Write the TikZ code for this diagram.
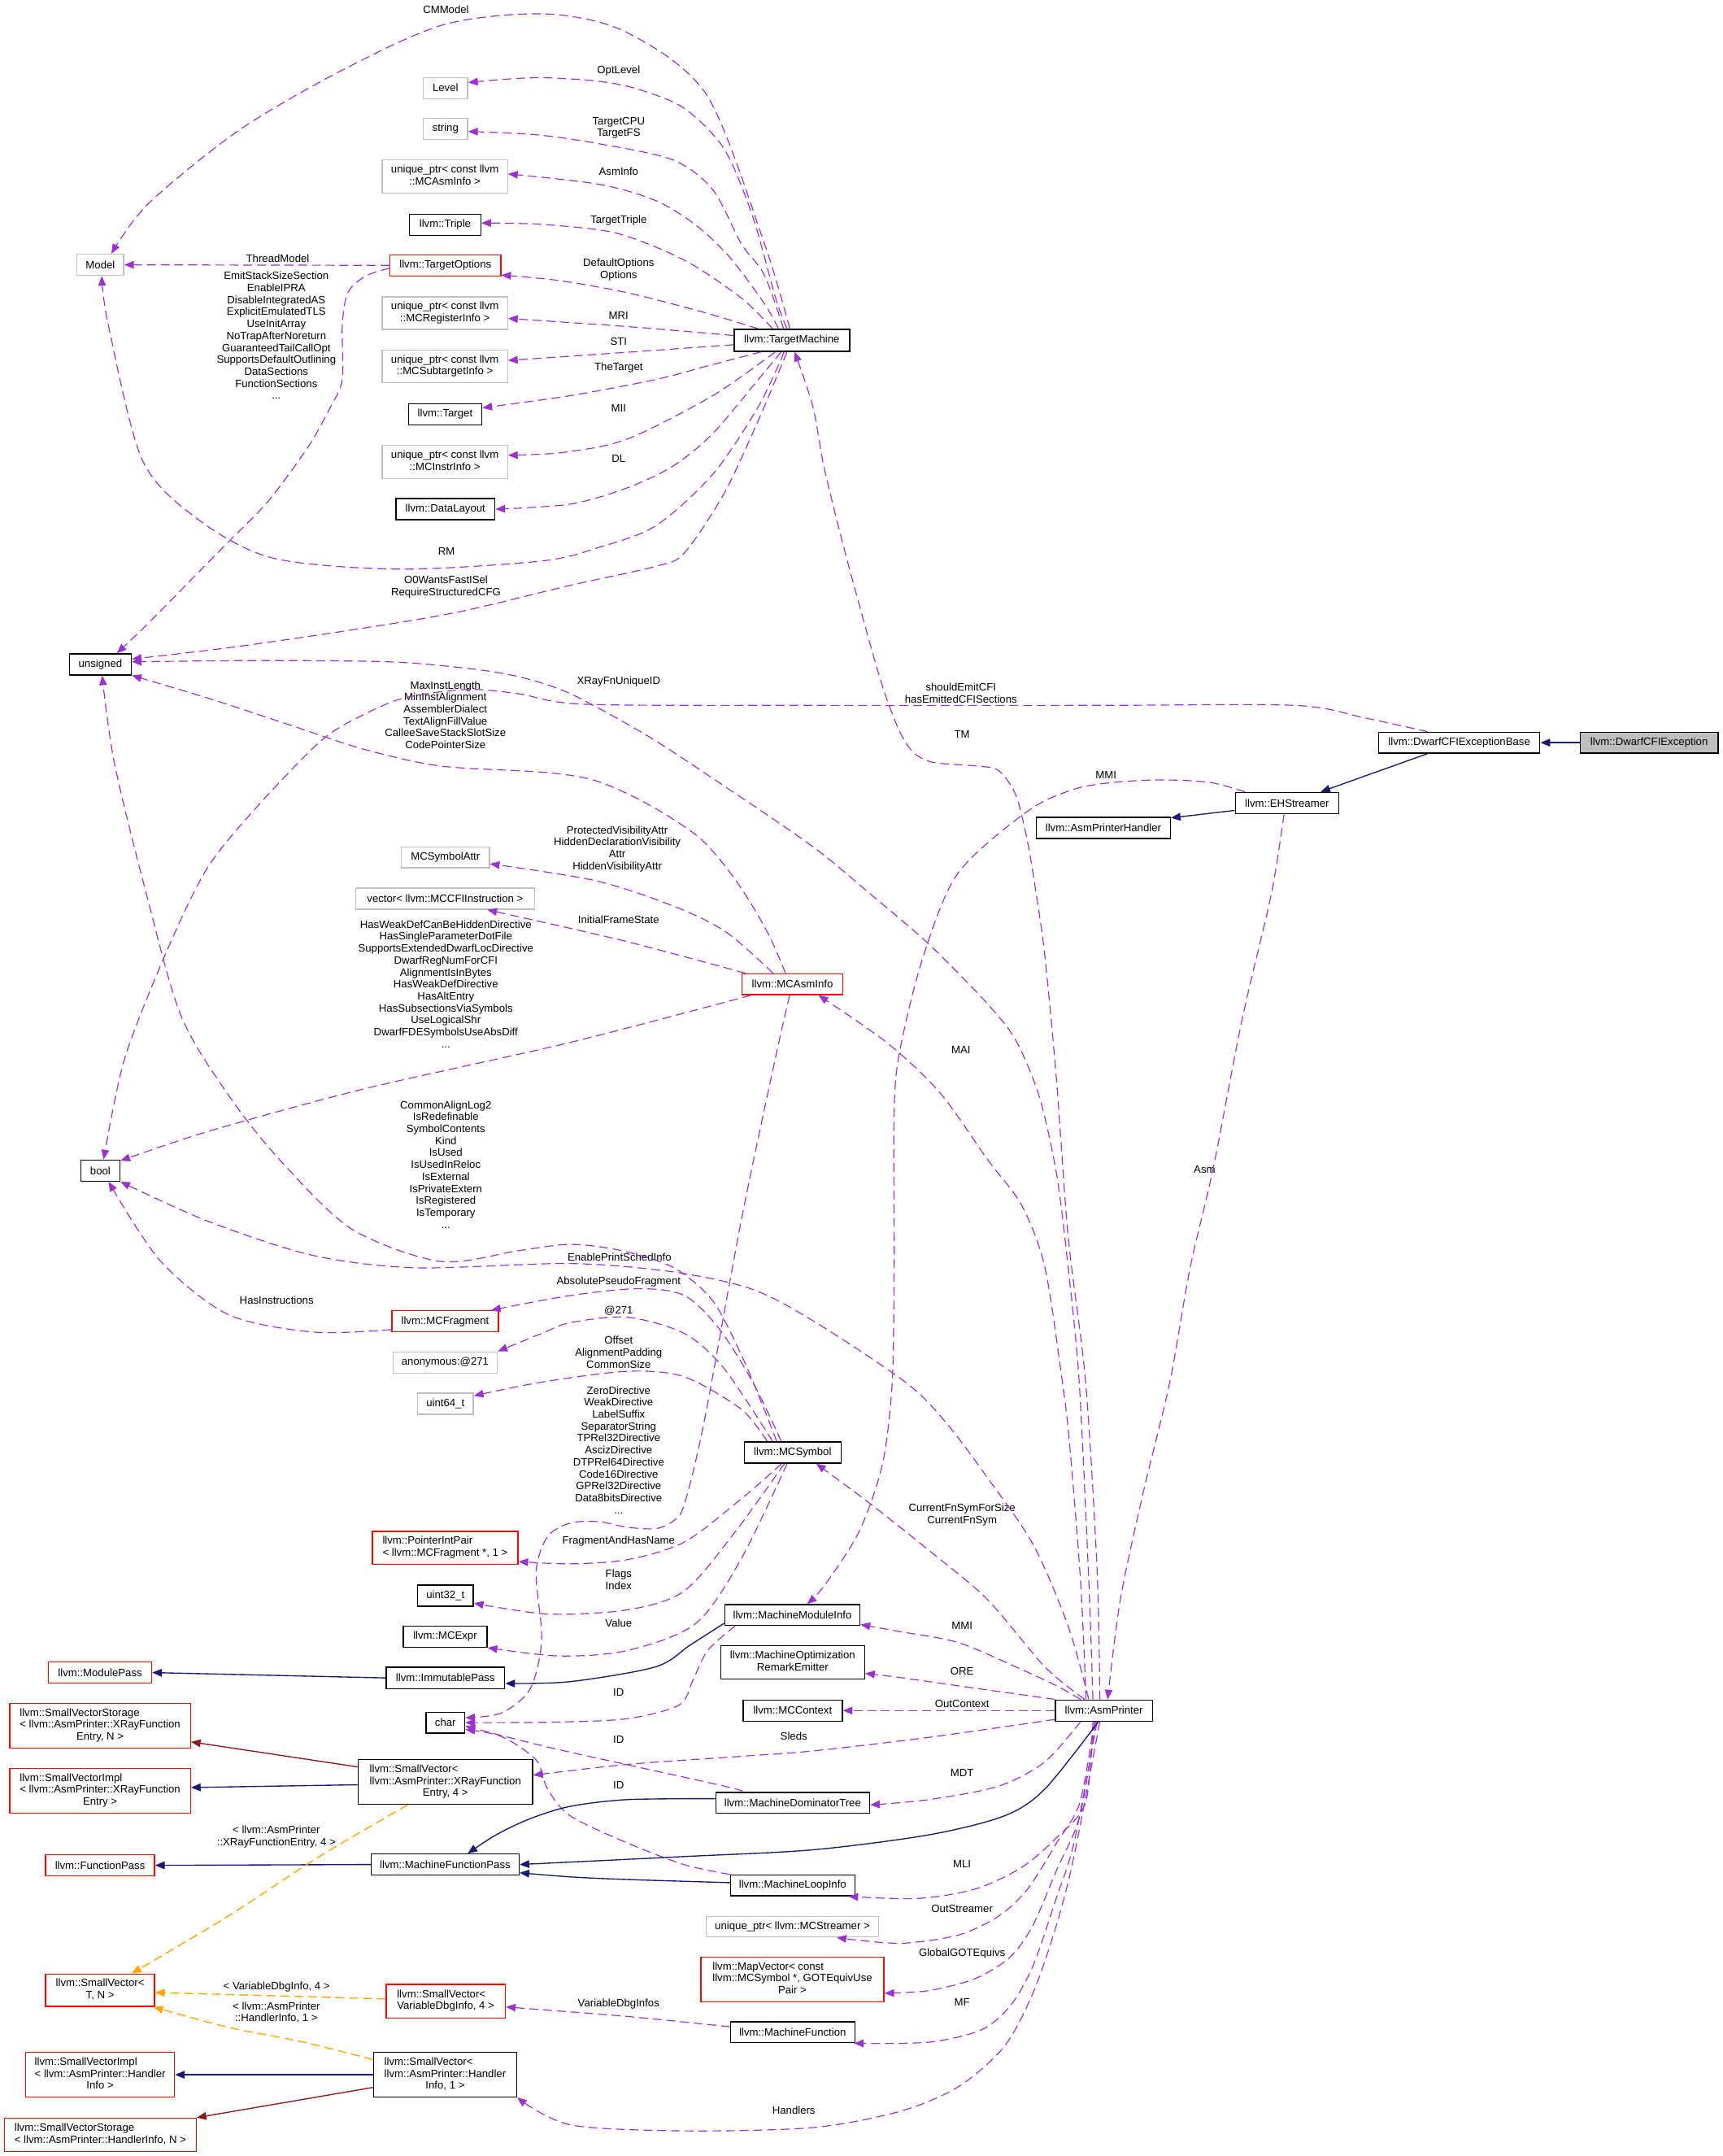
\documentclass[tikz,border=0pt]{standalone}
\usepackage{fontspec}
\setmainfont{Liberation Sans}
\usetikzlibrary{arrows.meta}
\definecolor{dxpurple}{HTML}{9A32CD}
\definecolor{dxblue}{HTML}{191970}
\definecolor{dxred}{HTML}{8B1A1A}
\definecolor{dxorange}{HTML}{FFA500}
\definecolor{dxgrey}{HTML}{BFBFBF}
\definecolor{dxtrunc}{HTML}{FF0000}
\newcommand\dxfont{\fontsize{7.8pt}{8.7pt}\selectfont}
\newcommand\dxml[2]{\begin{tabular}{@{}l@{}}#1\\\multicolumn{1}{@{}c@{}}{#2}\end{tabular}}
\begin{document}
\begin{tikzpicture}[x=1pt,y=-1pt,
  dxbox/.style={rectangle, draw, fill=white, line width=0.8pt, inner sep=0pt, font=\dxfont, align=center},
  cls/.style={dxbox, draw=black},
  undoc/.style={dxbox, draw=dxgrey},
  trunc/.style={dxbox, draw=dxtrunc},
  rootcls/.style={dxbox, draw=black, fill=dxgrey},
  lbl/.style={font=\dxfont, align=center, inner sep=0pt},
  tipa/.style={-{Triangle[length=7pt,width=5.6pt]}},
  usage/.style={draw=dxpurple, line width=0.7pt, dash pattern=on 6.5pt off 3.5pt, tipa},
  inh/.style={draw=dxblue, line width=0.8pt, tipa},
  priv/.style={draw=dxred, line width=0.8pt, tipa},
  tmpl/.style={draw=dxorange, line width=0.8pt, dash pattern=on 6.5pt off 3.5pt, tipa},
]
\useasboundingbox (0,0) rectangle (1253,1568);
\fill[white] (0,0) rectangle (1253,1568);

% ---------- nodes: left column
\node[undoc, minimum width=34pt, minimum height=15.5pt] (model) at (73,192.6) {Model};
\node[cls, minimum width=45pt, minimum height=15.3pt] (unsigned) at (73,483.2) {unsigned};
\node[cls, minimum width=28.5pt, minimum height=15.4pt] (bool) at (73,851.3) {bool};
\node[trunc, minimum width=75pt, minimum height=15.4pt] (modulepass) at (72.8,1216.4) {llvm::ModulePass};
\node[trunc, minimum width=131.5pt, minimum height=32.6pt] (svstorx) at (72.8,1255.1) {\dxml{llvm::SmallVectorStorage\\< llvm::AsmPrinter::XRayFunction}{Entry, N >}};
\node[trunc, minimum width=131.5pt, minimum height=32.6pt] (svimplx) at (72.8,1302.4) {\dxml{llvm::SmallVectorImpl\\< llvm::AsmPrinter::XRayFunction}{Entry >}};
\node[trunc, minimum width=79.2pt, minimum height=15.5pt] (functionpass) at (72.8,1356.6) {llvm::FunctionPass};
\node[trunc, minimum width=79.2pt, minimum height=23.6pt] (svtn) at (72.8,1447.4) {\dxml{llvm::SmallVector<}{T, N >}};
\node[trunc, minimum width=108.2pt, minimum height=32.4pt] (svimplh) at (72.8,1508.9) {\dxml{llvm::SmallVectorImpl\\< llvm::AsmPrinter::Handler}{Info >}};
\node[trunc, minimum width=139.4pt, minimum height=24.1pt] (svstorh) at (73,1552.5) {\dxml{llvm::SmallVectorStorage}{< llvm::AsmPrinter::HandlerInfo, N >}};

% ---------- nodes: middle column
\node[undoc, minimum width=32.3pt, minimum height=15.4pt] (level) at (324,64) {Level};
\node[undoc, minimum width=32.3pt, minimum height=15.4pt] (string) at (324,93.8) {string};
\node[undoc, minimum width=91.2pt, minimum height=24pt] (upasm) at (323.6,128.3) {\dxml{unique\_ptr< const llvm}{::MCAsmInfo >}};
\node[cls, minimum width=52pt, minimum height=15.4pt] (triple) at (323.8,163.4) {llvm::Triple};
\node[trunc, minimum width=80.5pt, minimum height=15.3pt] (targetoptions) at (324,193) {llvm::TargetOptions};
\node[undoc, minimum width=91.2pt, minimum height=23.7pt] (upreg) at (323.6,227.7) {\dxml{unique\_ptr< const llvm}{::MCRegisterInfo >}};
\node[undoc, minimum width=91.2pt, minimum height=23.6pt] (upsub) at (323.6,266.5) {\dxml{unique\_ptr< const llvm}{::MCSubtargetInfo >}};
\node[cls, minimum width=53.5pt, minimum height=15.2pt] (target) at (323.8,301.3) {llvm::Target};
\node[undoc, minimum width=91.2pt, minimum height=24.3pt] (upinstr) at (323.6,335.8) {\dxml{unique\_ptr< const llvm}{::MCInstrInfo >}};
\node[cls, minimum width=72pt, minimum height=15.3pt] (datalayout) at (324,370.3) {llvm::DataLayout};
\node[undoc, minimum width=64pt, minimum height=15.2pt] (symattr) at (324,623.5) {MCSymbolAttr};
\node[undoc, minimum width=129.8pt, minimum height=15.4pt] (vector) at (323.8,653.6) {vector< llvm::MCCFIInstruction >};
\node[trunc, minimum width=77.6pt, minimum height=15.4pt] (mcfragment) at (323.8,961) {llvm::MCFragment};
\node[undoc, minimum width=75.9pt, minimum height=15.4pt] (anon) at (323.8,990.9) {anonymous:@271};
\node[undoc, minimum width=40.6pt, minimum height=15.4pt] (uint64) at (324,1020.8) {uint64\_t};
\node[trunc, minimum width=105.8pt, minimum height=24pt] (pip) at (323.8,1125.7) {\dxml{llvm::PointerIntPair}{< llvm::MCFragment *, 1 >}};
\node[cls, minimum width=40.6pt, minimum height=15.4pt] (uint32) at (324,1160.4) {uint32\_t};
\node[cls, minimum width=61pt, minimum height=15.3pt] (mcexpr) at (323.8,1190.3) {llvm::MCExpr};
\node[cls, minimum width=86.3pt, minimum height=15.4pt] (immutable) at (324,1220.3) {llvm::ImmutablePass};
\node[cls, minimum width=28.2pt, minimum height=15.3pt] (char) at (324,1252.8) {char};
\node[cls, minimum width=127pt, minimum height=32.4pt] (svx) at (324,1296) {\dxml{llvm::SmallVector<\\ llvm::AsmPrinter::XRayFunction}{Entry, 4 >}};
\node[cls, minimum width=107.5pt, minimum height=15.2pt] (mfp) at (323.8,1356) {llvm::MachineFunctionPass};
\node[trunc, minimum width=86.7pt, minimum height=24.3pt] (svvdi) at (324.2,1455.4) {\dxml{llvm::SmallVector<}{VariableDbgInfo, 4 >}};
\node[cls, minimum width=104pt, minimum height=32.4pt] (svh) at (323.8,1508.9) {\dxml{llvm::SmallVector<\\ llvm::AsmPrinter::Handler}{Info, 1 >}};

% ---------- nodes: column x=576
\node[cls, minimum width=84pt, minimum height=16pt] (tm) at (576,247.5) {llvm::TargetMachine};
\node[trunc, minimum width=73.4pt, minimum height=15.2pt] (mcasminfo) at (576.4,715.8) {llvm::MCAsmInfo};
\node[cls, minimum width=70.5pt, minimum height=15.4pt] (mcsymbol) at (576.6,1056.3) {llvm::MCSymbol};
\node[cls, minimum width=98.3pt, minimum height=15.2pt] (mmi) at (576.4,1174.5) {llvm::MachineModuleInfo};
\node[cls, minimum width=104.6pt, minimum height=24.1pt] (more) at (576.6,1209) {\dxml{llvm::MachineOptimization}{RemarkEmitter}};
\node[cls, minimum width=72.2pt, minimum height=15.4pt] (mccontext) at (576.6,1244) {llvm::MCContext};
\node[cls, minimum width=112pt, minimum height=15.2pt] (mdt) at (576.6,1311.1) {llvm::MachineDominatorTree};
\node[cls, minimum width=90.4pt, minimum height=15.2pt] (mli) at (576.6,1371.2) {llvm::MachineLoopInfo};
\node[undoc, minimum width=125.6pt, minimum height=15.1pt] (upstreamer) at (576.4,1401.2) {unique\_ptr< llvm::MCStreamer >};
\node[trunc, minimum width=133.2pt, minimum height=32.6pt] (mapvector) at (576.4,1439.6) {\dxml{llvm::MapVector< const\\ llvm::MCSymbol *, GOTEquivUse}{Pair >}};
\node[cls, minimum width=90.4pt, minimum height=15.2pt] (mf) at (576.6,1478) {llvm::MachineFunction};

% ---------- nodes: right part
\node[cls, minimum width=70.5pt, minimum height=15.4pt] (asmprinter) at (803,1244) {llvm::AsmPrinter};
\node[cls, minimum width=97.5pt, minimum height=15.4pt] (aph) at (802.6,602.1) {llvm::AsmPrinterHandler};
\node[cls, minimum width=75.2pt, minimum height=15.4pt] (ehs) at (936.2,584) {llvm::EHStreamer};
\node[cls, minimum width=117.2pt, minimum height=15pt] (dcfib) at (1061.5,540.1) {llvm::DwarfCFIExceptionBase};
\node[rootcls, minimum width=100.5pt, minimum height=15pt] (dcfi) at (1199.6,540.1) {llvm::DwarfCFIException};

% ---------- edge labels
\node[lbl] (lCMModel) at (324.4,6.9) {CMModel};
\node[lbl] (lOptLevel) at (450,51.6) {OptLevel};
\node[lbl] (lTargetCPU) at (450,93) {TargetCPU\\TargetFS};
\node[lbl] (lAsmInfo) at (450,124.6) {AsmInfo};
\node[lbl] (lTriple) at (450,160.6) {TargetTriple};
\node[lbl] (lThread) at (202,188.2) {ThreadModel};
\node[lbl] (lOptions) at (450,196) {DefaultOptions\\Options};
\node[lbl] (lMRI) at (450,229.6) {MRI};
\node[lbl] (lSTI) at (450,248.3) {STI};
\node[lbl] (lEmit) at (201,244) {EmitStackSizeSection\\EnableIPRA\\DisableIntegratedAS\\ExplicitEmulatedTLS\\UseInitArray\\NoTrapAfterNoreturn\\GuaranteedTailCallOpt\\SupportsDefaultOutlining\\DataSections\\FunctionSections\\...};
\node[lbl] (lTheTarget) at (450,267.4) {TheTarget};
\node[lbl] (lMII) at (450,297) {MII};
\node[lbl] (lDL) at (450,333.5) {DL};
\node[lbl] (lRM) at (324.8,401.1) {RM};
\node[lbl] (lO0) at (324.4,427) {O0WantsFastISel\\RequireStructuredCFG};
\node[lbl] (lXRay) at (450,495.8) {XRayFnUniqueID};
\node[lbl] (lCFI) at (699,504) {shouldEmitCFI\\hasEmittedCFISections};
\node[lbl] (lMaxInst) at (324,520) {MaxInstLength\\MinInstAlignment\\AssemblerDialect\\TextAlignFillValue\\CalleeSaveStackSlotSize\\CodePointerSize};
\node[lbl] (lTM) at (699.8,534) {TM};
\node[lbl] (lMMIa) at (804.5,563.4) {MMI};
\node[lbl] (lProt) at (449,617.4) {ProtectedVisibilityAttr\\HiddenDeclarationVisibility\\Attr\\HiddenVisibilityAttr};
\node[lbl] (lInit) at (450,669) {InitialFrameState};
\node[lbl] (lHasWeak) at (324.3,715.7) {HasWeakDefCanBeHiddenDirective\\HasSingleParameterDotFile\\SupportsExtendedDwarfLocDirective\\DwarfRegNumForCFI\\AlignmentIsInBytes\\HasWeakDefDirective\\HasAltEntry\\HasSubsectionsViaSymbols\\UseLogicalShr\\DwarfFDESymbolsUseAbsDiff\\...};
\node[lbl] (lMAI) at (699,763.6) {MAI};
\node[lbl] (lCommon) at (324.3,846.9) {CommonAlignLog2\\IsRedefinable\\SymbolContents\\Kind\\IsUsed\\IsUsedInReloc\\IsExternal\\IsPrivateExtern\\IsRegistered\\IsTemporary\\...};
\node[lbl] (lAsm) at (876.2,850.8) {Asm};
\node[lbl] (lEnable) at (450.6,914.3) {EnablePrintSchedInfo};
\node[lbl] (lAbs) at (450,932.3) {AbsolutePseudoFragment};
\node[lbl] (lHasInstr) at (201.2,945.7) {HasInstructions};
\node[lbl] (l271) at (450,953) {@271};
\node[lbl] (lOffset) at (450,983.5) {Offset\\AlignmentPadding\\CommonSize};
\node[lbl] (lZero) at (450,1054.5) {ZeroDirective\\WeakDirective\\LabelSuffix\\SeparatorString\\TPRel32Directive\\AscizDirective\\DTPRel64Directive\\Code16Directive\\GPRel32Directive\\Data8bitsDirective\\...};
\node[lbl] (lCurFn) at (699.8,1101.7) {CurrentFnSymForSize\\CurrentFnSym};
\node[lbl] (lFrag) at (450,1121) {FragmentAndHasName};
\node[lbl] (lFlags) at (450,1149) {Flags\\Index};
\node[lbl] (lValue) at (450,1180.7) {Value};
\node[lbl] (lMMIb) at (699.8,1182.3) {MMI};
\node[lbl] (lORE) at (699.8,1215.4) {ORE};
\node[lbl] (lIDa) at (450,1230.9) {ID};
\node[lbl] (lOutCtx) at (699.8,1239.3) {OutContext};
\node[lbl] (lSleds) at (577.4,1262.9) {Sleds};
\node[lbl] (lIDb) at (450,1265.4) {ID};
\node[lbl] (lMDT) at (699.8,1289.1) {MDT};
\node[lbl] (lIDc) at (450,1298) {ID};
\node[lbl] (lXRayT) at (201,1336) {< llvm::AsmPrinter\\::XRayFunctionEntry, 4 >};
\node[lbl] (lMLI) at (699.8,1355.5) {MLI};
\node[lbl] (lOutStr) at (699.8,1388.2) {OutStreamer};
\node[lbl] (lGOT) at (699.8,1420.5) {GlobalGOTEquivs};
\node[lbl] (lVDI) at (201.2,1445.2) {< VariableDbgInfo, 4 >};
\node[lbl] (lMF) at (699.8,1456.2) {MF};
\node[lbl] (lVDIs) at (450,1457.2) {VariableDbgInfos};
\node[lbl] (lHandT) at (201,1463.6) {< llvm::AsmPrinter\\::HandlerInfo, 1 >};
\node[lbl] (lHandlers) at (577.4,1534.9) {Handlers};

% ---------- TargetMachine edges
\draw[usage] plot[smooth] coordinates {([xshift=-1.5pt]tm.north) (556,177) (514,69) (456,23.6) (398,10.2) (323.6,17.7) (249,51) (174,94.6) (108,148) ([xshift=8pt]model.north)};
\draw[usage] plot[smooth] coordinates {([xshift=-3.5pt]tm.north) (564.2,216.8) (547.6,157.7) (526.8,108.4) (497.8,78.8) (464.6,65) (435.6,59.1) (398.2,56.6) (373.3,57.2) ([yshift=4pt]level.east)};
\draw[usage] plot[smooth] coordinates {([xshift=-6pt]tm.north) (556,200) (539.3,177.4) (518.5,138) (489.5,116.3) (435.6,104.5) (390,98) ([yshift=-1.8pt]string.east)};
\draw[usage] plot[smooth] coordinates {([xshift=-9.7pt]tm.north) (556,220.8) (531,187.3) (506,163.6) (477,145.9) (435.6,134) ([yshift=1.8pt]upasm.east)};
\draw[usage] plot[smooth] coordinates {([xshift=-14pt]tm.north) (539.3,216.8) (497.8,189.2) (448,169.5) (394,163.2) ([yshift=1.2pt]triple.east)};
\draw[usage] plot[smooth] coordinates {([xshift=-24.3pt]tm.north) (510.2,226.7) (456.3,212.9) (406.5,204) ([yshift=1pt]targetoptions.south east)};
\draw[usage] plot[smooth] coordinates {([yshift=3.5pt]tm.west) (456.3,237.5) ([yshift=-3.9pt]upreg.east)};
\draw[usage] plot[smooth] coordinates {([yshift=-3.2pt]tm.west) (456.3,256.2) ([yshift=4.4pt]upsub.east)};
\draw[usage] plot[smooth] coordinates {([xshift=-22.2pt]tm.south) (515,266) (477,276) (415,287.7) ([yshift=4.7pt]target.east)};
\draw[usage] plot[smooth] coordinates {([xshift=-12pt]tm.south) (518.5,287.7) (456.3,319.3) (410,329) ([yshift=4.7pt]upinstr.east)};
\draw[usage] plot[smooth] coordinates {([xshift=-7.7pt]tm.south) (551.7,275.9) (518.5,315.3) (489.5,339) (456.3,354.8) (415,366.6) (datalayout.east)};
\draw[usage] plot[smooth] coordinates {([xshift=-5.6pt]tm.south) (551.7,295.6) (518.5,344.9) (477,382.4) (435.6,398.1) (394,408) (290.4,413.9) (199,406) (145,378.4) (103.7,335) (78.8,236.5) ([xshift=1pt]model.south)};
\draw[usage] plot[smooth] coordinates {([xshift=-3.5pt]tm.south) (551.7,305.5) (526.8,358.7) (497.8,402.1) (477,411.9) (414.8,425.7) (331.9,445.4) (248.9,459.2) (166,471.1) ([yshift=3.9pt]unsigned.east)};

% ---------- TargetOptions edges
\draw[usage] (targetoptions.west) -- (model.east);
\draw[usage] plot[smooth] coordinates {([yshift=-2pt]targetoptions.west) (265.5,201) (253,212.9) (249,236.5) (249,276) (240.6,295.6) (224,325.2) (195,364.6) (166,394.2) (136.9,423.8) (107.9,453.3) ([xshift=12pt]unsigned.north)};

% ---------- MCAsmInfo edges
\draw[usage] plot[smooth] coordinates {([xshift=-5pt]mcasminfo.north) (558.1,677.7) (535.5,640.6) (509.1,609.6) (471.4,584.9) (433.7,567.9) (396,561.7) (320.5,557.1) (264,544.7) (207.4,526.1) (150.8,507.6) (unsigned.south east)};
\draw[usage] plot[smooth] coordinates {([xshift=-14pt]mcasminfo.north) (528,677.7) (490.2,659.1) (433.7,640.6) ([yshift=-4.7pt]symattr.east)};
\draw[usage] plot[smooth] coordinates {([xshift=3pt]mcasminfo.north west) (452.5,683.9) ([xshift=30.7pt]vector.south)};
\draw[usage] plot[smooth] coordinates {([xshift=7pt]mcasminfo.south west) (414.8,758.1) (264,792.1) (150.8,823) ([yshift=-1pt]bool.north east)};
\draw[usage] plot[smooth] coordinates {([xshift=-2pt]mcasminfo.south) (564.2,768.7) (539.3,887) (512,1035) (497.8,1094) (490,1106) (477,1111.7) (456.3,1110.7) (435.6,1106.7) (414.8,1107.7) (398.2,1117.6) (390,1143.2) (394,1192.5) (385.8,1228) (365,1245.7) ([yshift=3.5pt]char.east)};

% ---------- DwarfCFIExceptionBase -> bool
\draw[usage] plot[smooth] coordinates {([xshift=-22.8pt]dcfib.north) (992.3,522) (941.6,513) (800,513) (600,513) (426.1,512.2) (377.1,504.5) (339.4,501.4) (294.2,507.6) (264,520) (233.8,538.5) (188.6,584.9) (150.8,631.3) (120.7,693.1) (90.5,770.5) ([xshift=2.4pt]bool.north)};

% ---------- MCSymbol edges
\draw[usage] plot[smooth] coordinates {([xshift=-11.6pt]mcsymbol.north) (555.9,1025) (539.3,985.5) (518.5,946.1) (490.2,922) (452.5,909.6) (414.8,905) (377,909.6) (320.5,917.4) (256.4,894.2) (207.4,847.8) (169.7,801.4) (132,739.5) (105.6,646.8) (83,554) ([xshift=1.3pt]unsigned.south)};
\draw[usage] plot[smooth] coordinates {([xshift=-8.3pt]mcsymbol.north) (547.6,1005.2) (522.7,965.8) (497.8,942.2) (464.6,937.2) (414.8,942.2) ([xshift=-5.8pt]mcfragment.north east)};
\draw[usage] plot[smooth] coordinates {([xshift=-14.6pt]mcsymbol.north) (526.8,995.4) (497.8,969.8) (456.3,958) (414.8,961.9) (394,969.8) (anon.north east)};
\draw[usage] plot[smooth] coordinates {([xshift=-18.6pt]mcsymbol.north) (539.3,1025) (497.8,1001.3) (456.3,997.3) (394,1005.2) ([yshift=5.7pt]uint64.east)};
\draw[usage] plot[smooth] coordinates {([xshift=-8pt]mcsymbol.south) (539.3,1090) (497.8,1121.5) (456.3,1134.3) (414.8,1137.3) ([yshift=-10pt]pip.east)};
\draw[usage] plot[smooth] coordinates {([xshift=-6pt]mcsymbol.south) (535.1,1113.6) (497.8,1157) (456.3,1170.8) (398.2,1173.8) ([yshift=-5.5pt]uint32.east)};
\draw[usage] plot[smooth] coordinates {([xshift=-4pt]mcsymbol.south) (539.3,1133.4) (506.1,1180.7) (456.3,1200.4) (406.5,1204.3) (mcexpr.south east)};
\draw[usage] plot[smooth] coordinates {([yshift=-6pt]mcfragment.west) (228.2,968.8) (166,956) (116.2,916.5) ([xshift=6pt]bool.south)};

% ---------- ID edges to char
\draw[usage] plot[smooth] coordinates {([xshift=8pt]mmi.south west) (515,1200) (504,1222) (494,1240) (456,1250) (400,1252.5) (char.east)};
\draw[usage] plot[smooth] coordinates {([xshift=19pt]mdt.north west) (526.9,1299) (414.8,1274.3) (373.4,1264.4) ([yshift=-2.5pt]char.east)};
\draw[usage] plot[smooth] coordinates {(mli.north west) (497.8,1356.1) (456.3,1340.3) (414.8,1320.6) (398.2,1300.9) (390,1280) (365,1263) ([yshift=-5pt]char.east)};

% ---------- AsmPrinter edges
\draw[usage] plot[smooth] coordinates {([xshift=-3pt]asmprinter.north) (798.1,1143.3) (789.7,1005.3) (777,899.4) (768.6,786.3) (760.1,695.8) (753.8,650.5) (747.5,612.5) (739,578.5) (726.4,560.4) (709.5,557) (675.7,553.7) (658.8,540.1) (642,499.3) (616.6,408.8) (599.7,341) (591.3,295.7) ([xshift=2pt]tm.south)};
\draw[usage] plot[smooth] coordinates {([xshift=-13pt]asmprinter.north) (786,1150) (778,1050) (772.8,1005.3) (760.1,922) (743.3,876.8) (718,842.8) (684.2,795.3) (646.2,759.1) ([xshift=19pt]mcasminfo.south)};
\draw[usage] plot[smooth] coordinates {([xshift=-8pt]asmprinter.north) (792,1150) (785,1005) (777,922) (768.6,854.1) (756,797.6) (739,756.8) (718,729.7) (675.7,686.7) (633.5,650.5) (591.3,615.8) (528,572.5) (471.4,535.4) (414.8,504.5) (377.1,492.1) (339.4,486) (282.8,481.3) (188.6,480.4) ([yshift=1.9pt]unsigned.east)};
\draw[usage] plot[smooth] coordinates {([xshift=-11pt]asmprinter.north) (777,1182.7) (751.7,1123.6) (718,1074.3) (688.4,1034.9) (658.8,1005.3) (591.3,960.5) (546.8,937.5) (490.2,925.1) (414.8,918.9) (301.7,922) (226.3,912.7) (150.8,888) (bool.south east)};
\draw[usage] plot[smooth] coordinates {([xshift=-14pt]asmprinter.north) (760.1,1212.3) (718,1163) (675.7,1127.5) (633.5,1094) ([xshift=-18.5pt]mcsymbol.south east)};
\draw[usage] plot[smooth] coordinates {([xshift=-17pt]asmprinter.north) (768.6,1226) (739,1212.3) (696.8,1194.5) (654.6,1186.6) ([yshift=-7pt]mmi.east)};
\draw[usage] plot[smooth] coordinates {(asmprinter.north west) (696.8,1226) (654.6,1220) ([yshift=-8pt]more.east)};
\draw[usage] (asmprinter.west) -- (mccontext.east);
\draw[usage] plot[smooth] coordinates {([yshift=-6.5pt]asmprinter.west) (675.7,1263.5) (591.3,1273.4) (539.3,1277.3) (456.3,1283.2) ([yshift=5pt]svx.east)};
\draw[usage] plot[smooth] coordinates {([xshift=-17pt]asmprinter.south) (760.1,1281.3) (726.4,1299) (675.7,1308.8) ([yshift=-1.6pt]mdt.east)};
\draw[usage] plot[smooth] coordinates {([xshift=-8pt]asmprinter.south) (789.7,1310.8) (768.6,1336.4) (743.3,1358) (709.5,1373.8) (667.3,1380.7) ([xshift=-5pt]mli.south east)};
\draw[usage] plot[smooth] coordinates {([xshift=-7pt]asmprinter.south) (785.5,1310.8) (768.6,1340.3) (747.5,1373.8) (726.4,1393.5) (697,1407.3) (654.6,1413.3) ([xshift=-31pt]upstreamer.south east)};
\draw[usage] plot[smooth] coordinates {([xshift=-6pt]asmprinter.south) (785.5,1320.6) (768.6,1360) (751.7,1399.5) (735,1423.1) (709.5,1438.9) (675.7,1447.7) ([yshift=-10pt]mapvector.east)};
\draw[usage] plot[smooth] coordinates {([xshift=-5pt]asmprinter.south) (781.2,1340.3) (768.6,1379.7) (751.7,1429) (735,1458.6) (713.7,1476.3) (675.7,1485.2) ([xshift=-1pt]mf.south east)};
\draw[usage] plot[smooth] coordinates {([xshift=-3pt]asmprinter.south) (781.2,1350.2) (768.6,1399.5) (751.7,1448.7) (730.6,1488.2) (697,1517.7) (654.6,1535.5) (591.3,1547.3) (497.8,1549.7) (414.8,1545.3) (svh.south east)};
\draw[inh] plot[smooth] coordinates {([xshift=-4pt]asmprinter.south) (760.1,1301) (730.6,1320.6) (675.7,1334.4) (591.3,1345.3) (497.8,1350.2) (mfp.east)};

% ---------- EHStreamer edges
\draw[usage] plot[smooth] coordinates {([xshift=-2.2pt]ehs.south) (924.7,650.5) (903.6,741) (882.5,849.6) (865.7,922) (850.9,1005.3) (831.9,1084.1) (815,1163) ([xshift=2.7pt]asmprinter.north)};
\draw[usage] plot[smooth] coordinates {([xshift=-30.5pt]ehs.north) (880,569) (844.5,567.2) (810,569) (781.2,574) (747.5,589.9) (696.8,635.1) (671.5,695.8) (654.6,763.6) (650.4,808.9) (650.4,922) (649,1005) (642,1064.4) (625,1113.7) (599.7,1153.1) ([xshift=10.6pt]mmi.north)};

% ---------- inheritance
\draw[inh] (dcfi.west) -- (dcfib.east);
\draw[inh] ([xshift=-22.8pt]dcfib.south) -- ([xshift=24.4pt]ehs.north);
\draw[inh] ([yshift=-5.4pt]ehs.west) -- ([yshift=7.3pt]aph.east);
\draw[inh] plot[smooth] coordinates {([yshift=3pt]mdt.west) (456.3,1308.8) (414.8,1313.7) (385.8,1322.6) (360.9,1334.4) ([xshift=16.4pt]mfp.north)};
\draw[inh] plot[smooth] coordinates {([yshift=2pt]mli.west) (456.3,1366.9) (414.8,1365) ([yshift=-6pt]mfp.east)};
\draw[inh] plot[smooth] coordinates {([yshift=-6pt]mmi.west) (502,1196.4) (477,1212.2) (414.8,1223) ([yshift=-4pt]immutable.east)};
\draw[inh] (immutable.west) -- (modulepass.east);
\draw[inh] (mfp.west) -- (functionpass.east);
\draw[inh] ([yshift=-2pt]svx.west) -- ([yshift=2.4pt]svimplx.east);
\draw[priv] ([yshift=11pt]svx.west) -- ([yshift=5pt]svstorx.south east);
\draw[inh] (svh.west) -- (svimplh.east);
\draw[priv] ([yshift=-9.2pt]svh.west) -- (svstorh.north east);

% ---------- template instances
\draw[tmpl] plot[smooth] coordinates {([xshift=-27.4pt]svx.south) (232.3,1350.2) (166,1393.5) ([xshift=-17pt]svtn.north east)};
\draw[tmpl] ([yshift=1.7pt]svvdi.west) -- ([yshift=-1.7pt]svtn.east);
\draw[tmpl] plot[smooth] coordinates {([yshift=11pt]svh.west) (220,1485) (166,1474.4) ([xshift=-1.2pt]svtn.south east)};

% ---------- MachineFunction -> SmallVector<VariableDbgInfo>
\draw[usage] plot[smooth] coordinates {([yshift=4pt]mf.west) (456.3,1466.5) ([yshift=-4.2pt]svvdi.east)};
\end{tikzpicture}
\end{document}
